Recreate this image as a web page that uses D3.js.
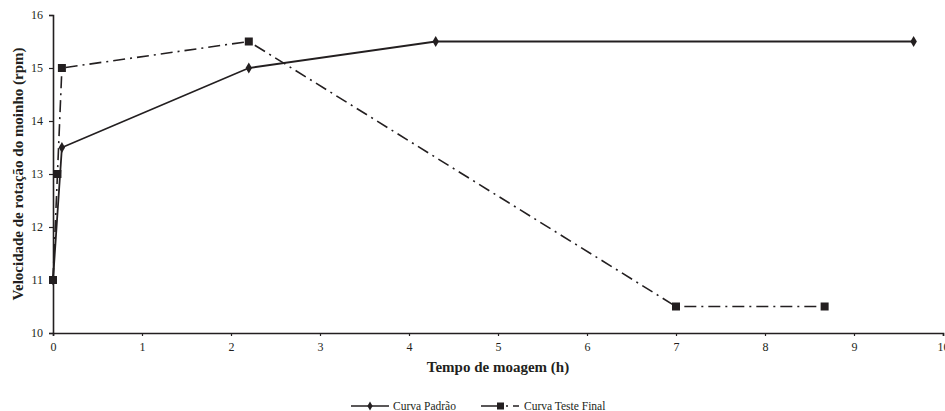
<!DOCTYPE html>
<html><head><meta charset="utf-8">
<script src="https://cdn.jsdelivr.net/npm/d3@7"></script>
<style>body{margin:0;background:#fff}svg{display:block}svg text{font-family:"Liberation Serif","Times New Roman",serif !important}</style>
</head><body><svg id="c" width="945" height="411"></svg>
<script>
const padraoX = [0, 0.1, 2.2, 4.3, 9.67];
const padraoY = [11, 13.5, 15, 15.5, 15.5];
const testeX = [0, 0.05, 0.1, 2.2, 7, 8.67];
const testeY = [11, 13, 15, 15.5, 10.5, 10.5];
const xTicks = [0,1,2,3,4,5,6,7,8,9,10];
const yTicks = [10,11,12,13,14,15,16];
const seriesNames = ["Curva Padrão", "Curva Teste Final"];

const svg = d3.select("#c");
const x = d3.scaleLinear().domain([0,10]).range([53,943]);
const y = d3.scaleLinear().domain([10,16]).range([333,15]);
const col = "#231f20";
const FF = "'Liberation Serif', serif";

const xa = svg.append("g").attr("transform","translate(0,333)")
  .call(d3.axisBottom(x).tickValues(xTicks).tickSize(3).tickPadding(6).tickFormat(d3.format("d")));
const ya = svg.append("g").attr("transform","translate(53,0)")
  .call(d3.axisLeft(y).tickValues(yTicks).tickSize(4).tickPadding(6).tickFormat(d3.format("d")));
[xa,ya].forEach(a=>{
  a.attr("font-family",FF);
  a.select(".domain").attr("stroke",col).attr("stroke-width",1.6);
  a.selectAll(".tick line").attr("stroke",col).attr("stroke-width",1.2);
  a.selectAll(".tick text").attr("fill",col).attr("font-size","12px");
});

const line = d3.line().x(d=>x(d[0])).y(d=>y(d[1]));
const pad = padraoX.map((v,i)=>[v,padraoY[i]]);
const tes = testeX.map((v,i)=>[v,testeY[i]]);

svg.append("path").datum(tes).attr("d",line).attr("fill","none").attr("stroke",col)
  .attr("stroke-width",1.6).attr("stroke-dasharray","12,5,2,5");
svg.append("path").datum(pad).attr("d",line).attr("fill","none").attr("stroke",col).attr("stroke-width",1.8);

svg.selectAll(".sq").data(tes).enter().append("rect")
  .attr("x",d=>x(d[0])-4).attr("y",d=>y(d[1])-4).attr("width",8).attr("height",8).attr("fill",col);
const diamond = d3.symbol().type(d3.symbolDiamond).size(36);
svg.selectAll(".dm").data(pad).enter().append("path")
  .attr("d",diamond).attr("transform",d=>`translate(${x(d[0])},${y(d[1])})`).attr("fill",col);

svg.append("text").attr("x",498).attr("y",372).attr("text-anchor","middle").attr("font-family",FF)
  .attr("font-size","15px").attr("font-weight","bold").attr("fill",col).text("Tempo de moagem (h)");
svg.append("text").attr("transform","translate(23,174) rotate(-90)").attr("text-anchor","middle").attr("font-family",FF)
  .attr("font-size","15px").attr("font-weight","bold").attr("fill",col).text("Velocidade de rotação do moinho (rpm)");

// legend
const lg = svg.append("g").attr("font-family",FF).attr("font-size","11.5px").attr("fill",col);
lg.append("line").attr("x1",351).attr("x2",389).attr("y1",406).attr("y2",406).attr("stroke",col).attr("stroke-width",1.6);
lg.append("path").attr("d",d3.symbol().type(d3.symbolDiamond).size(24)).attr("transform","translate(370,406)").attr("fill",col);
lg.append("text").attr("x",393).attr("y",410).text(seriesNames[0]);
lg.append("line").attr("x1",481).attr("x2",519).attr("y1",406).attr("y2",406).attr("stroke",col).attr("stroke-width",1.6).attr("stroke-dasharray","20,5,2,5");
lg.append("rect").attr("x",497).attr("y",402.5).attr("width",7).attr("height",7).attr("fill",col);
lg.append("text").attr("x",524).attr("y",410).text(seriesNames[1]);
</script></body></html>
